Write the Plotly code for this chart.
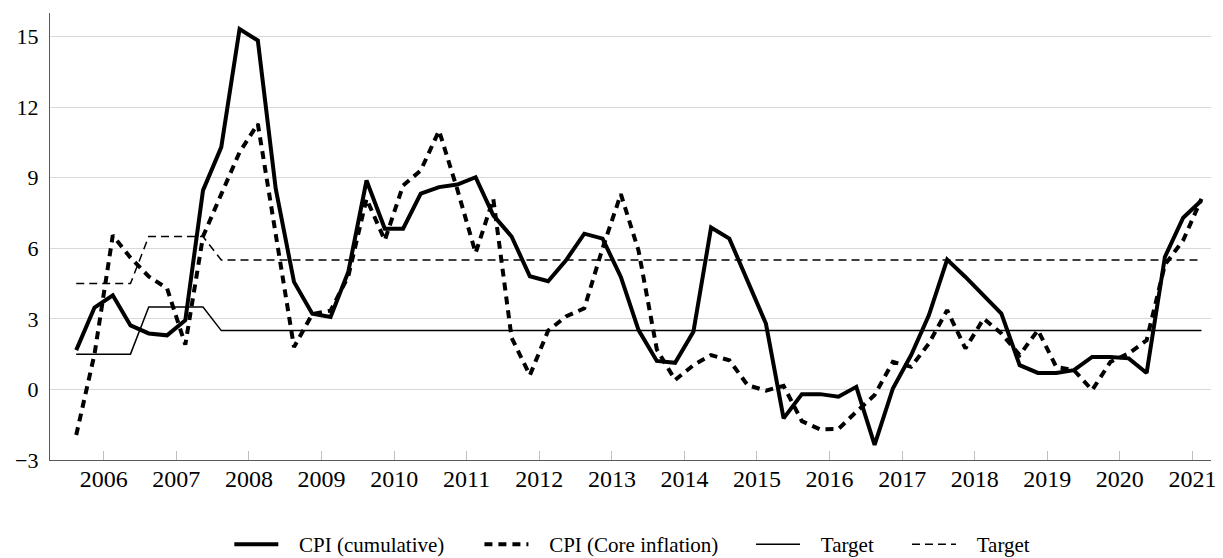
import plotly.graph_objects as go

# Quarterly observations, 2005Q3 .. 2021Q1
quarters = [f"{y}Q{q}" for y in range(2005, 2022) for q in range(1, 5)]
quarters = quarters[quarters.index("2005Q3"):quarters.index("2021Q1") + 1]

cpi_cumulative = [1.67, 3.48, 4.0, 2.72, 2.38, 2.3, 2.94, 8.46, 10.3, 15.32,
                  14.83, 8.53, 4.57, 3.22, 3.08, 4.99, 8.88, 6.83, 6.83, 8.32,
                  8.6, 8.71, 9.02, 7.4, 6.5, 4.81, 4.6, 5.49, 6.62, 6.41,
                  4.78, 2.52, 1.21, 1.13, 2.45, 6.88, 6.41, 4.64, 2.8, -1.23,
                  -0.2, -0.2, -0.31, 0.11, -2.36, 0.04, 1.46, 3.15, 5.52, 4.78,
                  4.0, 3.22, 1.03, 0.7, 0.7, 0.82, 1.38, 1.38, 1.32, 0.7,
                  5.63, 7.3, 8.03]

cpi_core = [-1.94, 1.5, 6.55, 5.6, 4.8, 4.3, 1.9, 6.5, 8.3, 10.08,
            11.29, 6.6, 1.8, 3.2, 3.35, 4.8, 8.1, 6.34, 8.67, 9.31,
            11.0, 8.5, 5.8, 8.1, 2.2, 0.6, 2.5, 3.1, 3.45, 6.0,
            8.3, 5.9, 1.7, 0.4, 1.03, 1.46, 1.24, 0.18, -0.05, 0.15,
            -1.35, -1.7, -1.68, -0.95, -0.24, 1.17, 0.96, 1.95, 3.37, 1.74,
            3.01, 2.38, 1.46, 2.52, 0.96, 0.82, -0.03, 1.17, 1.53, 2.09,
            5.3, 6.34, 8.1]

target_low = [1.5] * 4 + [3.5] * 4 + [2.5] * 55
target_high = [4.5] * 4 + [6.5] * 4 + [5.5] * 55

year_ticks = list(range(2006, 2022))
y_ticks = [-3, 0, 3, 6, 9, 12, 15]

mid_month = {1: "02-15", 2: "05-15", 3: "08-15", 4: "11-15"}
x_dates = [f"{q[:4]}-{mid_month[int(q[-1])]}" for q in quarters]

FONT = "Liberation Serif, Times New Roman, DejaVu Serif, serif"
GAP = "\u00a0\u00a0\u00a0"  # visual gap between legend symbol and label

series = [
    ("CPI (cumulative)", cpi_cumulative, dict(color="black", width=4), "legend", 0.1875),
    ("CPI (Core inflation)", cpi_core, dict(color="black", width=4, dash="8px,6px"), "legend2", 0.392),
    ("Target", target_low, dict(color="black", width=1.5), "legend3", 0.6141),
    ("Target", target_high, dict(color="black", width=1.5, dash="8px,5px"), "legend4", 0.7416),
]

fig = go.Figure()
legend_layout = {}
for name, vals, line, lg, lx in series:
    fig.add_trace(go.Scatter(x=x_dates, y=vals, mode="lines", name=GAP + name,
                             line=line, legend=lg))
    legend_layout[lg] = dict(orientation="h", xref="container", yref="container",
                             x=lx, xanchor="left", y=0.024, yanchor="middle",
                             font=dict(size=21, family=FONT, color="black"),
                             itemwidth=44, bgcolor="rgba(0,0,0,0)")

fig.update_layout(
    width=1223, height=558,
    margin=dict(l=50, r=7, t=13, b=98),
    paper_bgcolor="white", plot_bgcolor="white",
    font=dict(family=FONT, color="black", size=22),
    showlegend=True,
    **legend_layout,
)
fig.update_xaxes(
    type="date",
    range=["2005-04-05", "2021-04-04"],
    tickvals=[f"{y}-01-01" for y in year_ticks],
    ticktext=[str(y) for y in year_ticks],
    ticks="inside", ticklen=9, tickcolor="#bfbfbf", tickwidth=1,
    showline=True, linecolor="#595959", linewidth=1.2,
    showgrid=False, zeroline=False,
    tickfont=dict(size=24, family=FONT, color="black"),
    ticklabelstandoff=-3,
)
fig.update_yaxes(
    range=[-3, 16],
    tickvals=y_ticks,
    ticktext=[str(v) if v >= 0 else "\u2212" + str(-v) for v in y_ticks],
    showline=True, linecolor="#595959", linewidth=1.2,
    showgrid=True, gridcolor="#d9d9d9", gridwidth=1,
    zeroline=False, ticks="",
    tickfont=dict(size=22, family=FONT, color="black"),
    ticklabelstandoff=6,
)

fig.write_html("out.html", config={"displayModeBar": False},
               post_script="document.body.style.margin='0px';")
